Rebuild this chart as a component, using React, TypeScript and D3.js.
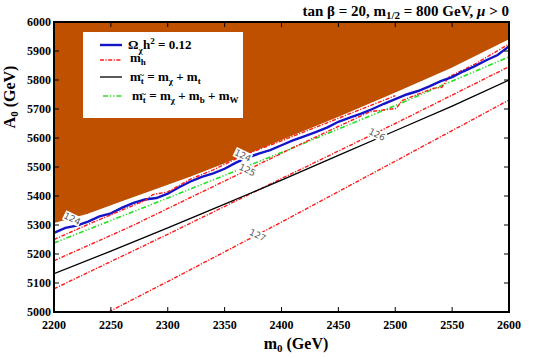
import React from "react";
import * as d3 from "d3";

// m0 (GeV) vs A0 (GeV) points
const excludedEdge: [number, number][] = [
  [2200, 5302], [2230, 5335], [2260, 5378], [2290, 5420], [2320, 5462], [2350, 5508],
  [2400, 5588], [2450, 5668], [2500, 5752], [2550, 5838], [2600, 5936],
];
const relic: [number, number][] = [
  [2200, 5273], [2210, 5290], [2220, 5298], [2230, 5312], [2240, 5330], [2250, 5340],
  [2260, 5360], [2270, 5376], [2280, 5388], [2290, 5393], [2300, 5408], [2310, 5430],
  [2320, 5450], [2330, 5466], [2340, 5478], [2350, 5494], [2360, 5515], [2370, 5532],
  [2380, 5546], [2390, 5558], [2400, 5575], [2410, 5592], [2420, 5606], [2430, 5620],
  [2440, 5636], [2450, 5656], [2460, 5670], [2470, 5684], [2480, 5700], [2490, 5718],
  [2500, 5734], [2510, 5750], [2520, 5762], [2530, 5778], [2540, 5796], [2550, 5810],
  [2560, 5830], [2570, 5848], [2580, 5868], [2590, 5886], [2600, 5916],
];
const mh124: [number, number][] = [
  [2200, 5250], [2230, 5302], [2260, 5352], [2280, 5384], [2287, 5405], [2300, 5414],
  [2320, 5458], [2340, 5490], [2366, 5540], [2400, 5590], [2450, 5668], [2500, 5746],
];
const mh125: [number, number][] = [
  [2200, 5177], [2267, 5294], [2328, 5410], [2370, 5490], [2420, 5585], [2478, 5691],
  [2501, 5702], [2506, 5729], [2533, 5771], [2541, 5775], [2547, 5810], [2570, 5855],
  [2600, 5924],
];
const mh126: [number, number][] = [
  [2200, 5080], [2300, 5268], [2400, 5460], [2500, 5650], [2600, 5846],
];
const mh127: [number, number][] = [
  [2248, 5000], [2300, 5105], [2400, 5310], [2500, 5520], [2600, 5731],
];
const stopTop: [number, number][] = [
  [2200, 5132], [2250, 5210], [2300, 5290], [2350, 5372], [2400, 5455], [2450, 5540],
  [2500, 5625], [2550, 5710], [2600, 5800],
];
const stopBW: [number, number][] = [
  [2200, 5238], [2300, 5393], [2400, 5550], [2500, 5712], [2600, 5880],
];
const contourLabels: { text: string; m0: number; a0: number }[] = [
  { text: "124", m0: 2216, a0: 5322 },
  { text: "124", m0: 2366, a0: 5540 },
  { text: "125", m0: 2370, a0: 5490 },
  { text: "126", m0: 2484, a0: 5612 },
  { text: "127", m0: 2379, a0: 5265 },
];
const xTicks = [2200, 2250, 2300, 2350, 2400, 2450, 2500, 2550, 2600];
const yTicks = [5000, 5100, 5200, 5300, 5400, 5500, 5600, 5700, 5800, 5900, 6000];

const W = 540;
const H = 358;
const left = 54, right = 509, top = 22, bottom = 312;

const RED = "#ff1a1a";
const BLUE = "#1414c8";
const GREEN = "#22e022";
const BROWN = "#bf5000";
const redDash = "4,1.5,1.2,1.5";
const greenDash = "5,2,1.2,2,1.2,2";

// "m" with a stop subscript (t plus a tilde above it)
const StopMass = () => (
  <>
    m<tspan fontSize={9} dy={3}>t</tspan>
    <tspan fontSize={9} dx={-4.5} dy={-6}>~</tspan>
  </>
);

export default function App() {
  const x = d3.scaleLinear().domain([2200, 2600]).range([left, right]);
  const y = d3.scaleLinear().domain([5000, 6000]).range([bottom, top]);
  const line = d3
    .line<[number, number]>()
    .x((d) => x(d[0]))
    .y((d) => y(d[1]));
  const area = d3
    .area<[number, number]>()
    .x((d) => x(d[0]))
    .y0(() => y(6000))
    .y1((d) => y(d[1]));

  const slopeAngle = (Math.atan2(-(y(5500) - y(5310)), x(2400) - x(2300)) * 180) / Math.PI;
  const serif = "'Liberation Serif', 'Times New Roman', serif";

  return (
    <svg width={W} height={H} style={{ position: "absolute", left: 0, top: 0, background: "#fff" }}>
      <defs>
        <clipPath id="plot">
          <rect x={left} y={top} width={right - left} height={bottom - top} />
        </clipPath>
      </defs>

      <g clipPath="url(#plot)">
        <path d={area(excludedEdge) ?? ""} fill={BROWN} />
        <path d={line(excludedEdge) ?? ""} fill="none" stroke="#fff" strokeWidth={2.5} />
        <path d={line(mh127) ?? ""} fill="none" stroke={RED} strokeWidth={1.4} strokeDasharray={redDash} />
        <path d={line(mh126) ?? ""} fill="none" stroke={RED} strokeWidth={1.4} strokeDasharray={redDash} />
        <path d={line(stopTop) ?? ""} fill="none" stroke="#000" strokeWidth={1.3} />
        <path d={line(stopBW) ?? ""} fill="none" stroke={GREEN} strokeWidth={1.6} strokeDasharray={greenDash} />
        <path d={line(mh125) ?? ""} fill="none" stroke={RED} strokeWidth={1.4} strokeDasharray={redDash} />
        <path d={line(relic) ?? ""} fill="none" stroke={BLUE} strokeWidth={2.4} />
        <path d={line(mh124) ?? ""} fill="none" stroke={RED} strokeWidth={1.4} strokeDasharray={redDash} />

        {contourLabels.map((c, i) => (
          <g key={i} transform={`translate(${x(c.m0)},${y(c.a0)}) rotate(${slopeAngle})`}>
            <rect x={-9} y={-5} width={18} height={10} fill="#fff" />
            <text
              textAnchor="middle"
              dy="0.35em"
              fontSize={9}
              fontFamily="'DejaVu Sans', sans-serif"
              fill="#555"
            >
              {c.text}
            </text>
          </g>
        ))}
      </g>

      {/* ticks, inward on all four sides */}
      {xTicks.map((t) => (
        <g key={"x" + t}>
          <line x1={x(t)} x2={x(t)} y1={bottom} y2={bottom - 5} stroke="#000" strokeWidth={1} />
          <line x1={x(t)} x2={x(t)} y1={top} y2={top + 5} stroke="#000" strokeWidth={1} />
          <text x={x(t)} y={329} textAnchor="middle" fontSize={12} fontWeight="bold" fontFamily={serif}>
            {t}
          </text>
        </g>
      ))}
      {yTicks.map((t) => (
        <g key={"y" + t}>
          <line x1={left} x2={left + 5} y1={y(t)} y2={y(t)} stroke="#000" strokeWidth={1} />
          <line x1={right} x2={right - 5} y1={y(t)} y2={y(t)} stroke="#000" strokeWidth={1} />
          <text x={51} y={y(t)} dy="0.35em" textAnchor="end" fontSize={12} fontWeight="bold" fontFamily={serif}>
            {t}
          </text>
        </g>
      ))}
      <rect x={left} y={top} width={right - left} height={bottom - top} fill="none" stroke="#000" strokeWidth={2} />

      {/* legend */}
      <rect x={83} y={32} width={160} height={86} fill="#fff" />
      <g fontFamily={serif} fontWeight="bold" fontSize={13}>
        <line x1={100} x2={122} y1={45} y2={45} stroke={BLUE} strokeWidth={2.4} />
        <text x={128} y={49}>
          Ω<tspan fontSize={9} dy={4}>χ</tspan>
          <tspan dx={0.5} dy={-4}>h</tspan>
          <tspan fontSize={9} dy={-5}>2</tspan>
          <tspan dy={5}> = 0.12</tspan>
        </text>
        <line x1={100} x2={122} y1={60} y2={60} stroke={RED} strokeWidth={1.4} strokeDasharray={redDash} />
        <text x={130} y={62}>
          m<tspan fontSize={9} dy={3}>h</tspan>
        </text>
        <line x1={100} x2={122} y1={77} y2={77} stroke="#000" strokeWidth={1.3} />
        <text x={130} y={81}>
          <StopMass />
          <tspan dy={3}> = m</tspan>
          <tspan fontSize={9} dy={3}>χ</tspan>
          <tspan dy={-3}> + m</tspan>
          <tspan fontSize={9} dy={3}>t</tspan>
        </text>
        <line x1={103} x2={122} y1={96} y2={96} stroke={GREEN} strokeWidth={1.6} strokeDasharray={greenDash} />
        <text x={132} y={100}>
          <StopMass />
          <tspan dy={3}> = m</tspan>
          <tspan fontSize={9} dy={3}>χ</tspan>
          <tspan dy={-3}> + m</tspan>
          <tspan fontSize={9} dy={3}>b</tspan>
          <tspan dy={-3}> + m</tspan>
          <tspan fontSize={9} dy={3}>W</tspan>
        </text>
      </g>

      {/* title and axis labels */}
      <text x={509} y={16} textAnchor="end" fontFamily={serif} fontWeight="bold" fontSize={15}>
        tan β = 20, m<tspan fontSize={11} dy={3}>1/2</tspan>
        <tspan dy={-3}> = 800 GeV, </tspan>
        <tspan fontStyle="italic">μ</tspan> &gt; 0
      </text>
      <text x={296} y={349} textAnchor="middle" fontFamily={serif} fontWeight="bold" fontSize={16}>
        m<tspan fontSize={11} dy={3}>0</tspan>
        <tspan dy={-3}> (GeV)</tspan>
      </text>
      <text
        transform={`translate(15,97) rotate(-90)`}
        textAnchor="middle"
        fontFamily={serif}
        fontWeight="bold"
        fontSize={16}
      >
        A<tspan fontSize={11} dy={3}>0</tspan>
        <tspan dy={-3}> (GeV)</tspan>
      </text>
    </svg>
  );
}
